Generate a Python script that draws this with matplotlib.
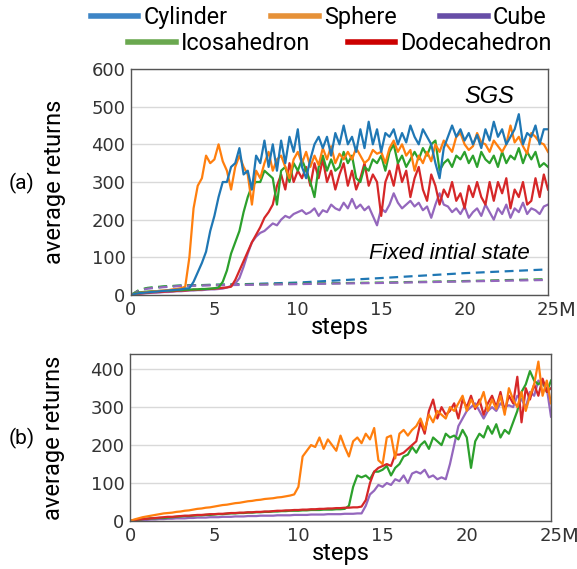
import numpy as np
import matplotlib
matplotlib.use("Agg")
import matplotlib.pyplot as plt
from matplotlib.lines import Line2D
from matplotlib.transforms import offset_copy

# ---------------- data ----------------
steps = np.linspace(0, 25, 101)  # millions of steps, every 0.25M

# (a) SGS curves
a_cylinder = [
    0, 3, 5, 6,
    7, 8, 9, 10,
    11, 12, 13, 14,
    15, 17, 18, 35,
    60, 85, 115, 170,
    210, 260, 300, 300,
    340, 350, 390, 320,
    330, 280, 370, 350,
    410, 340, 400, 330,
    410, 350, 420, 380,
    440, 340, 310, 360,
    400, 420, 390, 420,
    370, 430, 400, 450,
    400, 420, 380, 440,
    390, 460, 400, 440,
    380, 430, 420, 440,
    400, 430, 405, 450,
    420, 400, 440, 420,
    400, 350, 310, 390,
    420, 450, 420, 440,
    410, 430, 400, 425,
    390, 440, 410, 460,
    420, 440, 400, 420,
    440, 480, 400, 430,
    420, 450, 400, 440,
    440]
a_sphere = [
    0, 3, 5, 7,
    8, 9, 10, 11,
    12, 13, 15, 16,
    18, 22, 100, 230,
    290, 310, 370, 350,
    360, 400, 355, 330,
    280, 340, 370, 340,
    320, 240, 330, 310,
    350, 380, 330, 360,
    370, 340, 310, 360,
    380, 350, 380, 340,
    370, 345, 390, 360,
    395, 350, 375, 360,
    380, 360, 390, 370,
    350, 360, 385, 375,
    380, 350, 390, 410,
    380, 400, 370, 385,
    330, 370, 350, 380,
    355, 400, 380, 410,
    395, 380, 420, 430,
    400, 385, 395, 430,
    405, 400, 380, 410,
    395, 380, 400, 450,
    405, 420, 395, 375,
    430, 420, 405, 400,
    380]
a_cube = [
    0, 2, 3, 4,
    5, 6, 6, 7,
    8, 8, 9, 10,
    10, 11, 12, 12,
    13, 13, 14, 15,
    15, 16, 17, 20,
    24, 30, 45, 75,
    110, 140, 155, 165,
    170, 180, 190, 185,
    200, 210, 205, 215,
    220, 225, 215, 220,
    230, 210, 225, 220,
    240, 230, 225, 245,
    230, 255, 230, 240,
    225, 235, 210, 185,
    230, 220, 240, 270,
    245, 230, 240, 250,
    235, 245, 225, 235,
    205, 240, 270, 240,
    235, 220, 230, 215,
    235, 205, 220, 230,
    210, 240, 220, 200,
    230, 215, 240, 205,
    230, 220, 245, 215,
    230, 225, 215, 235,
    240]
a_icosa = [
    0, 5, 7, 8,
    9, 10, 10, 11,
    11, 12, 12, 13,
    13, 14, 14, 15,
    15, 16, 16, 17,
    18, 20, 35, 65,
    110, 140, 170, 220,
    260, 290, 300, 300,
    330, 320, 310, 240,
    330, 340, 300, 350,
    330, 360, 330, 300,
    260, 340, 370, 330,
    360, 330, 340, 380,
    350, 370, 310, 300,
    340, 330, 360, 350,
    370, 330, 380, 400,
    350, 370, 340, 360,
    380, 360, 390, 370,
    400, 410, 330, 350,
    360, 340, 370, 360,
    380, 350, 370, 340,
    380, 360, 350, 370,
    340, 380, 350, 370,
    360, 390, 350, 380,
    360, 380, 340, 350,
    340]
a_dodeca = [
    0, 2, 4, 5,
    6, 7, 8, 8,
    9, 10, 10, 11,
    12, 12, 13, 14,
    14, 15, 16, 16,
    17, 18, 19, 20,
    22, 40, 65, 90,
    115, 140, 160, 180,
    205, 220, 240, 290,
    320, 280, 350, 300,
    330, 310, 340, 290,
    350, 310, 360, 300,
    330, 280, 320, 350,
    290, 330, 280, 310,
    350, 290, 320, 300,
    210, 300, 330, 290,
    350, 300, 330, 260,
    310, 340, 280, 250,
    320, 290, 240, 280,
    260, 300, 250, 270,
    230, 290, 260, 300,
    260, 240, 300, 250,
    300, 270, 310, 230,
    280, 260, 300, 240,
    250, 310, 260, 320,
    280]

# (a) fixed initial state (dashed)
fixed_steps = [0, 0.5, 1, 2, 3, 5, 7, 10, 15, 20, 25]
fixed_cylinder = [0, 12, 18, 22, 25, 27, 29, 33, 45, 58, 68]
fixed_icosa = [0, 14, 19, 23, 25, 27, 28, 30, 33, 37, 42]
fixed_cube = [0, 12, 17, 21, 24, 26, 27, 29, 32, 36, 40]

# (b) curves
b_sphere = [
    0, 4, 7, 10,
    12, 14, 16, 18,
    20, 21, 22, 24,
    25, 27, 28, 30,
    32, 33, 35, 36,
    38, 40, 42, 43,
    45, 47, 48, 50,
    52, 53, 55, 56,
    58, 59, 60, 62,
    63, 65, 67, 70,
    90, 170, 185, 200,
    195, 220, 190, 215,
    200, 185, 225, 195,
    170, 210, 220, 205,
    230, 215, 245, 160,
    150, 220, 225, 165,
    230, 240, 225, 240,
    250, 270, 240, 280,
    260, 290, 280, 270,
    300, 290, 310, 330,
    290, 320, 300, 310,
    340, 290, 320, 295,
    330, 280, 350, 320,
    300, 340, 290, 330,
    360, 420, 330, 370,
    310]
b_icosa = [
    0, 2, 3, 5,
    6, 7, 7, 8,
    8, 9, 10, 11,
    12, 13, 13, 14,
    15, 15, 16, 16,
    17, 18, 18, 19,
    20, 20, 21, 21,
    22, 22, 23, 23,
    24, 24, 25, 25,
    26, 26, 27, 27,
    27, 28, 28, 29,
    29, 29, 30, 30,
    30, 31, 31, 32,
    40, 90, 120, 115,
    120, 110, 130, 130,
    135, 145, 120, 140,
    150, 170, 175, 195,
    180, 200, 210, 190,
    220, 210, 200, 230,
    220, 225, 215, 240,
    220, 140, 210, 230,
    220, 250, 230, 255,
    220, 240, 230, 260,
    290, 340, 360, 395,
    370, 360, 370, 340,
    370]
b_dodeca = [
    0, 2, 4, 5,
    6, 7, 8, 9,
    10, 11, 11, 12,
    13, 14, 14, 15,
    16, 16, 17, 18,
    18, 19, 19, 20,
    21, 21, 22, 22,
    23, 23, 24, 24,
    25, 25, 26, 27,
    27, 28, 28, 29,
    29, 30, 30, 31,
    31, 32, 32, 33,
    33, 34, 34, 35,
    35, 36, 36, 38,
    55, 100, 130, 140,
    145, 150, 145, 175,
    175, 180, 190, 200,
    210, 260, 230, 290,
    320, 270, 300, 280,
    290, 310, 270, 320,
    300, 330, 295, 320,
    280, 310, 330, 300,
    340, 290, 330, 310,
    380, 260, 350, 320,
    360, 330, 375, 340,
    350]
b_cube = [
    0, 1, 2, 3,
    3, 4, 4, 5,
    5, 6, 6, 7,
    7, 7, 8, 8,
    9, 9, 9, 10,
    10, 10, 11, 11,
    11, 12, 12, 12,
    13, 13, 13, 14,
    14, 14, 14, 15,
    15, 15, 15, 16,
    16, 16, 16, 17,
    17, 17, 17, 18,
    18, 18, 18, 19,
    19, 19, 20, 20,
    40, 70, 80, 95,
    90, 100, 95, 110,
    105, 120, 100, 125,
    130, 125, 135, 115,
    120, 110, 115, 110,
    150, 200, 250, 270,
    290, 300, 310, 290,
    270, 290, 300, 290,
    310, 300, 305, 300,
    330, 320, 300, 340,
    330, 370, 360, 350,
    275]

x_ticks = [0, 5, 10, 15, 20, 25]
a_yticks = [0, 100, 200, 300, 400, 500, 600]
b_yticks = [0, 100, 200, 300, 400]

legend_row1 = ["Cylinder", "Sphere", "Cube"]
legend_row2 = ["Icosahedron", "Dodecahedron"]

# ---------------- style ----------------
C_BLUE, C_ORANGE, C_GREEN, C_RED, C_PURPLE = "#1f77b4", "#ff7f0e", "#2ca02c", "#d62728", "#9467bd"
LEG = {"Cylinder": "#3d85c6", "Sphere": "#e69138", "Cube": "#674ea7",
       "Icosahedron": "#6aa84f", "Dodecahedron": "#cc0000"}
LABEL_FONT = "Roboto"
TICK_COLOR = "#333333"
TICK_PAD = 4

fig = plt.figure(figsize=(5.77, 5.69), dpi=100)
ax_a = fig.add_axes([131 / 577, 1 - 295 / 569, 417 / 577, 226 / 569])
ax_b = fig.add_axes([130 / 577, 1 - 521 / 569, 421 / 577, 167 / 569])


def style_axes(ax, yticks, ylim):
    ax.set_xlim(0, 25)
    ax.set_ylim(*ylim)
    ax.set_xticks(x_ticks)
    ax.set_yticks(yticks)
    ax.tick_params(length=0, labelsize=13, labelcolor=TICK_COLOR, pad=TICK_PAD)
    for lab in ax.get_xticklabels() + ax.get_yticklabels():
        lab.set_family("DejaVu Sans")
    ax.grid(axis="y", color="#d9d9d9", linewidth=1.0)
    ax.set_axisbelow(True)
    for s in ax.spines.values():
        s.set_color("#555555")
        s.set_linewidth(1.0)
    ax.set_xlabel("steps", fontsize=17, family=LABEL_FONT)
    ax.set_ylabel("average returns", fontsize=17, family=LABEL_FONT)
    # "M" suffix directly after the last tick label "25", on the tick-label baseline
    base_tr, va, _ = ax.get_xaxis_text1_transform(TICK_PAD)
    tr = offset_copy(base_tr, fig=fig, x=10, y=0, units="dots")
    ax.text(x_ticks[-1], 0.0, "M", transform=tr, ha="left", va=va,
            fontsize=14, color=TICK_COLOR, family="DejaVu Sans")


lw = 1.6
# (a)
ax_a.plot(fixed_steps, fixed_cylinder, color=C_BLUE, lw=lw, ls=(0, (4, 2.5)))
ax_a.plot(fixed_steps, fixed_icosa, color=C_GREEN, lw=lw, ls=(0, (4, 2.5)))
ax_a.plot(fixed_steps, fixed_cube, color=C_PURPLE, lw=lw, ls=(0, (4, 2.5)))
ax_a.plot(steps, a_cube, color=C_PURPLE, lw=lw)
ax_a.plot(steps, a_dodeca, color=C_RED, lw=lw)
ax_a.plot(steps, a_icosa, color=C_GREEN, lw=lw)
ax_a.plot(steps, a_sphere, color=C_ORANGE, lw=lw)
ax_a.plot(steps, a_cylinder, color=C_BLUE, lw=lw)
style_axes(ax_a, a_yticks, (0, 600))
ax_a.text(0.86, 0.88, "SGS", transform=ax_a.transAxes, ha="center", va="center",
          fontsize=17, style="italic", family="Liberation Sans")
ax_a.text(0.763, 0.182, "Fixed intial state", transform=ax_a.transAxes, ha="center",
          va="center", fontsize=16, style="italic", family="Liberation Sans")

# (b)
ax_b.plot(steps, b_cube, color=C_PURPLE, lw=lw)
ax_b.plot(steps, b_icosa, color=C_GREEN, lw=lw)
ax_b.plot(steps, b_dodeca, color=C_RED, lw=lw)
ax_b.plot(steps, b_sphere, color=C_ORANGE, lw=lw)
style_axes(ax_b, b_yticks, (0, 440))

for ax, w, h in ((ax_a, 417, 226), (ax_b, 421, 167)):
    ax.yaxis.set_label_coords(-65 / w, 0.5)
    ax.xaxis.set_label_coords(0.5, -21 / h)

fig.text(22 / 577, 1 - 183 / 569, "(a)", ha="center", va="center", fontsize=15, family=LABEL_FONT)
fig.text(22 / 577, 1 - 438 / 569, "(b)", ha="center", va="center", fontsize=15, family=LABEL_FONT)


# legend
def handles(names):
    return [Line2D([], [], color=LEG[n], lw=4) for n in names]


leg_kw = dict(frameon=False, handlelength=2.05, handletextpad=0.22,
              borderpad=0, borderaxespad=0,
              prop={"family": LABEL_FONT, "size": 16.8})
fig.legend(handles(legend_row1), legend_row1, loc="center", ncol=3, columnspacing=1.85,
           bbox_to_anchor=(318.5 / 577, 1 - 17.5 / 569), **leg_kw)
fig.legend(handles(legend_row2), legend_row2, loc="center", ncol=2, columnspacing=1.6,
           bbox_to_anchor=(340 / 577, 1 - 44 / 569), **leg_kw)

fig.savefig("out.png", dpi=100)
